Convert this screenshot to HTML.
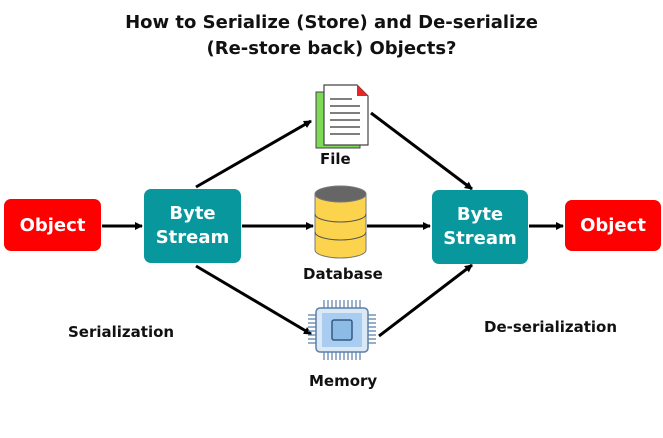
<!DOCTYPE html>
<html><head><style>
body{margin:0;width:663px;height:438px;background:#fff;overflow:hidden;font-family:"DejaVu Sans","Liberation Sans",sans-serif;}
.t{position:absolute;font-weight:bold;color:#111;}
.box{position:absolute;border-radius:7px;color:#fff;font-weight:bold;display:flex;align-items:center;justify-content:center;text-align:center;}
</style></head><body>
<div class="t" style="left:0;width:663px;top:10px;text-align:center;font-size:18px;line-height:26px;">How to Serialize (Store) and De-serialize<br>(Re-store back) Objects?</div>
<svg width="663" height="438" style="position:absolute;left:0;top:0">
<defs><marker id="a" markerWidth="8" markerHeight="8" refX="7" refY="4" orient="auto" markerUnits="userSpaceOnUse"><path d="M0,0 L8,4 L0,8z" fill="#000"/></marker></defs>
<g stroke="#000" stroke-width="3" fill="none" marker-end="url(#a)">
<line x1="102" y1="226" x2="142" y2="226"/>
<line x1="196" y1="187" x2="311" y2="121"/>
<line x1="242" y1="226" x2="313" y2="226"/>
<line x1="196" y1="266" x2="311" y2="334"/>
<line x1="371" y1="113" x2="472" y2="189"/>
<line x1="367" y1="226" x2="430" y2="226"/>
<line x1="379" y1="336" x2="472" y2="265"/>
<line x1="529" y1="226" x2="563" y2="226"/>
</g>
<rect x="316" y="92" width="44" height="56" fill="#7ed957" stroke="#444" stroke-width="1"/>
<path d="M324,85 H357 L368,96 V145 H324 Z" fill="#fff" stroke="#444" stroke-width="1.2"/>
<path d="M357,85 L368,96 H357Z" fill="#e22"/>
<g stroke="#333" stroke-width="1.2"><line x1="330" y1="99" x2="352" y2="99"/><line x1="330" y1="106" x2="360" y2="106"/><line x1="330" y1="113" x2="360" y2="113"/><line x1="330" y1="120" x2="360" y2="120"/><line x1="330" y1="127" x2="360" y2="127"/><line x1="330" y1="134" x2="360" y2="134"/></g>
<path d="M315,194 V250 A25.5,8 0 0 0 366,250 V194 Z" fill="#fcd34d" stroke="#777"/>
<path d="M315,214 A25.5,8 0 0 0 366,214 M315,232 A25.5,8 0 0 0 366,232" stroke="#555" fill="none"/>
<ellipse cx="340.5" cy="194" rx="25.5" ry="8" fill="#666" stroke="#777"/>
<g stroke="#5b7fa8" stroke-width="1.2">
<path d="M324,300v8M328,300v8M332,300v8M336,300v8M340,300v8M344,300v8M348,300v8M352,300v8M356,300v8M360,300v8M324,352v8M328,352v8M332,352v8M336,352v8M340,352v8M344,352v8M348,352v8M352,352v8M356,352v8M360,352v8M308,315h8M308,319h8M308,323h8M308,327h8M308,331h8M308,335h8M308,339h8M308,343h8M368,315h8M368,319h8M368,323h8M368,327h8M368,331h8M368,335h8M368,339h8M368,343h8"/>
</g>
<rect x="316" y="308" width="52" height="44" rx="4" fill="#dbe8f5" stroke="#5b7fa8" stroke-width="1.5"/>
<rect x="322" y="313" width="40" height="34" fill="#a9cdf0"/>
<rect x="332" y="320" width="20" height="20" rx="2" fill="#8cbbe6" stroke="#355a80" stroke-width="1.5"/>
</svg>
<div class="box" style="left:4px;top:199px;width:97px;height:52px;background:#f00;font-size:18px;">Object</div>
<div class="box" style="left:144px;top:189px;width:97px;height:74px;background:#08979c;font-size:18px;line-height:24px;">Byte<br>Stream</div>
<div class="box" style="left:432px;top:190px;width:96px;height:74px;background:#08979c;font-size:18px;line-height:24px;">Byte<br>Stream</div>
<div class="box" style="left:565px;top:200px;width:96px;height:51px;background:#f00;font-size:18px;">Object</div>
<div class="t" style="left:320px;top:150px;font-size:15px;">File</div>
<div class="t" style="left:303px;top:265px;font-size:15px;">Database</div>
<div class="t" style="left:309px;top:372px;font-size:15px;">Memory</div>
<div class="t" style="left:68px;top:323px;font-size:15px;">Serialization</div>
<div class="t" style="left:484px;top:318px;font-size:15px;">De-serialization</div>
</body></html>
